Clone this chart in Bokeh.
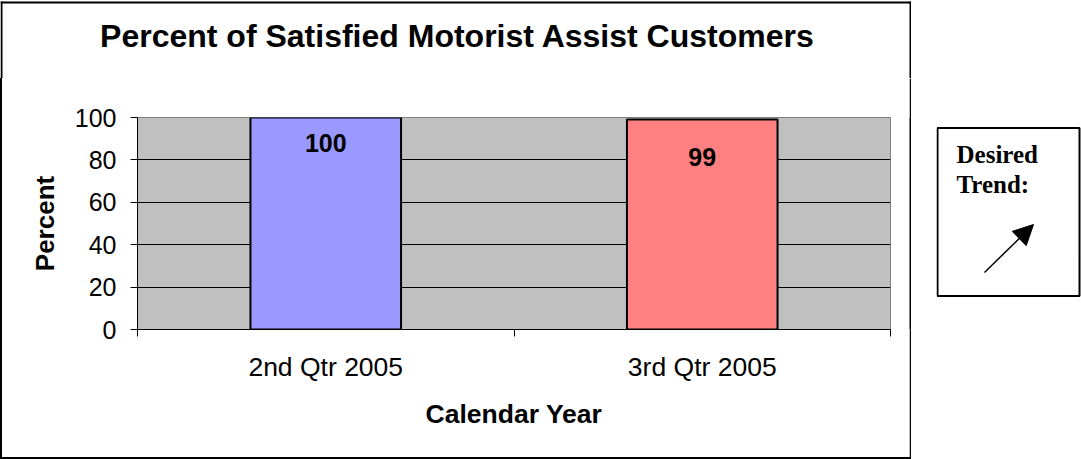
from bokeh.plotting import figure
from bokeh.models import (Range1d, FixedTicker, ColumnDataSource, LabelSet,
                          Arrow, NormalHead, Row, Column, Spacer, Div)
from bokeh.core.properties import value
from bokeh.embed import file_html
from bokeh.resources import INLINE

# ---- data ----
categories = ["2nd Qtr 2005", "3rd Qtr 2005"]
values = [100, 99]
bar_colors = ["#9999FF", "#FF8080"]
y_ticks = [0, 20, 40, 60, 80, 100]
title_text = "Percent of Satisfied Motorist Assist Customers"
x_title = "Calendar Year"
y_title = "Percent"
trend_lines = ["Desired", "Trend:"]

SANS = "Liberation Sans"
SERIF = "Liberation Serif"
EDGE = "black"

# ---- tiling of the 1081 x 459 canvas ----
LEFT_W = 911          # chart block (with its outer border)
TOP_H = 78            # title strip
LINE = 2              # outer border thickness
MID_H = 459 - TOP_H - LINE


def deco(w, h, fill="white"):
    f = figure(width=w, height=h, output_backend="svg", toolbar_location=None,
               x_range=Range1d(0, w), y_range=Range1d(h, 0), min_border=0,
               x_axis_location=None, y_axis_location=None, title=None,
               outline_line_color=None, background_fill_color=fill,
               border_fill_color=fill)
    f.grid.visible = False
    return f


def edge_div(w, h):
    return Div(text="", width=w, height=h, margin=0,
               styles={"background-color": EDGE})


# title strip, with the top and upper side parts of the outer border
top = deco(LEFT_W, TOP_H)
top.quad(left=[0, 0, LEFT_W - LINE], right=[LEFT_W, LINE, LEFT_W],
         top=[1, 1, 1], bottom=[3, TOP_H, TOP_H],
         fill_color=EDGE, line_color=None)
top.text(x=[457], y=[35], text=[title_text], text_align="center",
         text_baseline="middle", text_font=value(SANS), text_font_size="32px",
         text_font_style="bold", text_color="black")

# side and bottom strips of the outer border
left_strip = edge_div(LINE, MID_H)
right_strip = deco(LINE, MID_H, EDGE)
bottom_strip = edge_div(LEFT_W, LINE)

# ---------- chart ----------
PX0 = LINE                          # chart figure left edge on the canvas
PW = LEFT_W - 2 * LINE
FL, FR = 137 - PX0, 890 - PX0       # frame left / right inside p
FT, FB = 117 - TOP_H, 329 - TOP_H   # frame top / bottom inside p

p = figure(width=PW, height=MID_H, output_backend="svg", toolbar_location=None,
           x_range=Range1d(0, len(categories)), y_range=Range1d(0, 100), title=None,
           min_border_left=FL, min_border_right=PW - FR,
           min_border_top=FT, min_border_bottom=MID_H - FB,
           background_fill_color="#C0C0C0", border_fill_color="white",
           outline_line_color="#808080", outline_line_width=1)

xs = [i + 0.5 for i in range(len(categories))]
src = ColumnDataSource(dict(x=xs, top=values, color=bar_colors,
                            label=[str(v) for v in values],
                            dy=[-25, -37]))

p.vbar(x="x", top="top", width=0.4, bottom=0, source=src, fill_color="color",
       line_color="black", line_width=2)

labels = LabelSet(x="x", y="top", text="label", y_offset="dy", source=src,
                  text_align="center", text_baseline="middle",
                  text_font=value(SANS), text_font_size=value("25px"),
                  text_font_style="bold", text_color="black")
p.add_layout(labels)

p.xgrid.visible = False
p.ygrid.ticker = FixedTicker(ticks=y_ticks)
p.ygrid.grid_line_color = "black"
p.ygrid.grid_line_width = 1

ya = p.yaxis[0]
ya.ticker = FixedTicker(ticks=y_ticks)
ya.major_tick_out = 7
ya.major_tick_in = 0
ya.minor_tick_out = 0
ya.minor_tick_in = 0
ya.major_tick_line_color = "black"
ya.axis_line_color = "black"
ya.major_label_standoff = 14
ya.major_label_text_font = SANS
ya.major_label_text_font_size = "25px"
ya.major_label_text_color = "black"
ya.axis_label = y_title
ya.axis_label_text_font = SANS
ya.axis_label_text_font_size = "26px"
ya.axis_label_text_font_style = "bold"
ya.axis_label_text_color = "black"
ya.axis_label_standoff = 12

xa = p.xaxis[0]
xa.ticker = FixedTicker(ticks=xs, minor_ticks=list(range(len(categories) + 1)))
xa.major_label_overrides = {x: c for x, c in zip(xs, categories)}
xa.major_tick_out = 0
xa.major_tick_in = 0
xa.minor_tick_out = 7
xa.minor_tick_in = 0
xa.minor_tick_line_color = "black"
xa.axis_line_color = "black"
xa.major_label_standoff = 15
xa.major_label_text_font = SANS
xa.major_label_text_font_size = "26.5px"
xa.major_label_text_color = "black"
xa.axis_label = x_title
xa.axis_label_text_font = SANS
xa.axis_label_text_font_size = "26.5px"
xa.axis_label_text_font_style = "bold"
xa.axis_label_text_color = "black"
xa.axis_label_standoff = 14

# ---------- desired-trend box ----------
TX0, TY0 = 936, 126
TW, TH = 1081 - TX0, 171
trend = deco(TW, TH)
trend.quad(left=[1], right=[143], top=[1.5], bottom=[169.5],
           fill_color="white", line_color="black", line_width=2)
trend.text(x=[956 - TX0] * len(trend_lines),
           y=[154 - TY0 + 30 * i for i in range(len(trend_lines))],
           text=trend_lines, text_align="left", text_baseline="middle",
           text_font=value(SERIF), text_font_size="25px", text_font_style="bold",
           text_color="black")
trend.add_layout(Arrow(x_start=984 - TX0, y_start=272 - TY0,
                       x_end=1033 - TX0, y_end=224 - TY0,
                       line_color="black", line_width=1.5,
                       end=NormalHead(size=20, fill_color="black", line_color="black")))

mid_row = Row(children=[left_strip, p, right_strip], spacing=0)
left_block = Column(children=[top, mid_row, bottom_strip], spacing=0)
right_block = Column(children=[Spacer(width=1081 - LEFT_W, height=TY0),
                               Row(children=[Spacer(width=TX0 - LEFT_W, height=TH), trend],
                                   spacing=0)], spacing=0)
layout = Row(children=[left_block, right_block], spacing=0)

open("out.html", "w").write(file_html(layout, INLINE))
